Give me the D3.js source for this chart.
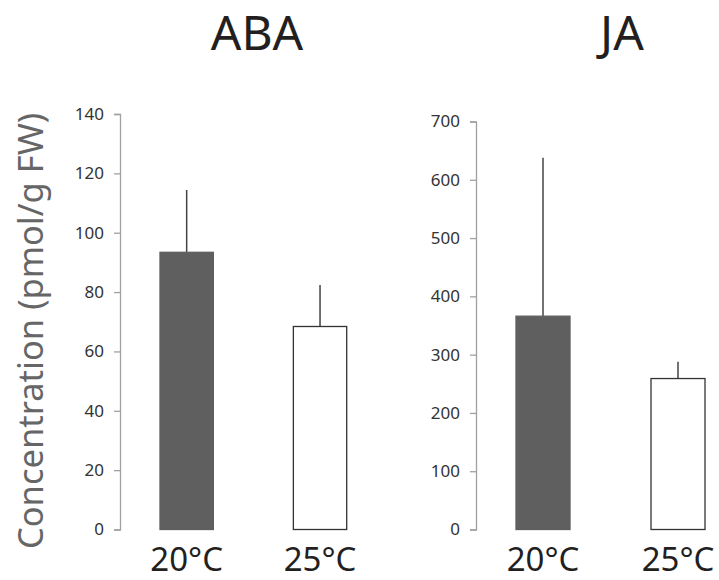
<!DOCTYPE html>
<html>
<head>
<meta charset="utf-8">
<script src="https://cdn.jsdelivr.net/npm/d3@7"></script>
<style>
  body { margin: 0; background: #fff; }
  text { font-family: "Noto Sans", "Open Sans", sans-serif; }
</style>
</head>
<body>
<div id="chart"></div>
<script>
const categories = ['20\u00B0C', '25\u00B0C'];
const abaMeans = [93.4, 68.4];
const abaErrors = [21.0, 14.0];
const abaTicks = [0, 20, 40, 60, 80, 100, 120, 140];
const jaMeans = [366, 259];
const jaErrors = [272, 29];
const jaTicks = [0, 100, 200, 300, 400, 500, 600, 700];
const barFills = ['#5e5f5e', '#ffffff'];

const width = 719;
const height = 580;

const svg = d3.select('#chart')
  .append('svg')
  .attr('width', width)
  .attr('height', height);

function drawPanel(opts) {
  const y = d3.scaleLinear()
    .domain([0, opts.max])
    .range([529.5, opts.topY]);

  const x = d3.scaleBand()
    .domain(categories)
    .range(opts.barRange)
    .paddingInner(0.6)
    .paddingOuter(0);

  const g = svg.append('g');

  const axis = g.append('g')
    .attr('transform', `translate(${opts.axisX},0)`)
    .call(d3.axisLeft(y).tickValues(opts.ticks).tickSize(6).tickPadding(10));
  axis.select('.domain').attr('stroke', '#a0a0a0').attr('stroke-width', 1.3);
  axis.selectAll('.tick line').attr('stroke', '#a0a0a0').attr('stroke-width', 1.3);
  axis.selectAll('.tick text')
    .attr('font-size', '17px')
    .attr('fill', '#333');

  // error bars (upper only)
  g.selectAll('line.err')
    .data(categories)
    .enter()
    .append('line')
    .attr('class', 'err')
    .attr('x1', (d) => x(d) + x.bandwidth() / 2)
    .attr('x2', (d) => x(d) + x.bandwidth() / 2)
    .attr('y1', (d, i) => y(opts.means[i]))
    .attr('y2', (d, i) => y(opts.means[i] + opts.errors[i]))
    .attr('stroke', '#444')
    .attr('stroke-width', 1.5);

  g.selectAll('rect.bar')
    .data(categories)
    .enter()
    .append('rect')
    .attr('class', 'bar')
    .attr('x', (d) => x(d))
    .attr('y', (d, i) => y(opts.means[i]))
    .attr('width', x.bandwidth())
    .attr('height', (d, i) => y(0) - y(opts.means[i]))
    .attr('fill', (d, i) => barFills[i])
    .attr('stroke', (d, i) => (i === 0 ? '#5e5f5e' : '#333'))
    .attr('stroke-width', 1.3);

  g.selectAll('text.cat')
    .data(categories)
    .enter()
    .append('text')
    .attr('class', 'cat')
    .attr('x', (d) => x(d) + x.bandwidth() / 2)
    .attr('y', 571)
    .attr('text-anchor', 'middle')
    .attr('font-size', '33px')
    .attr('fill', '#231f20')
    .text((d) => d);

  g.append('text')
    .attr('x', opts.titleX)
    .attr('y', 50)
    .attr('text-anchor', 'middle')
    .attr('font-size', '48px')
    .attr('fill', '#231f20')
    .text(opts.title);
}

drawPanel({
  title: 'ABA', titleX: 257,
  max: 140, topY: 114, axisX: 120, barRange: [160, 346.7],
  ticks: abaTicks, means: abaMeans, errors: abaErrors
});

drawPanel({
  title: 'JA', titleX: 622,
  max: 700, topY: 121.5, axisX: 476, barRange: [516, 705],
  ticks: jaTicks, means: jaMeans, errors: jaErrors
});

svg.append('text')
  .attr('transform', 'translate(43,331) rotate(-90)')
  .attr('text-anchor', 'middle')
  .attr('font-size', '34.5px')
  .attr('fill', '#666')
  .text('Concentration (pmol/g FW)');
</script>
</body>
</html>
